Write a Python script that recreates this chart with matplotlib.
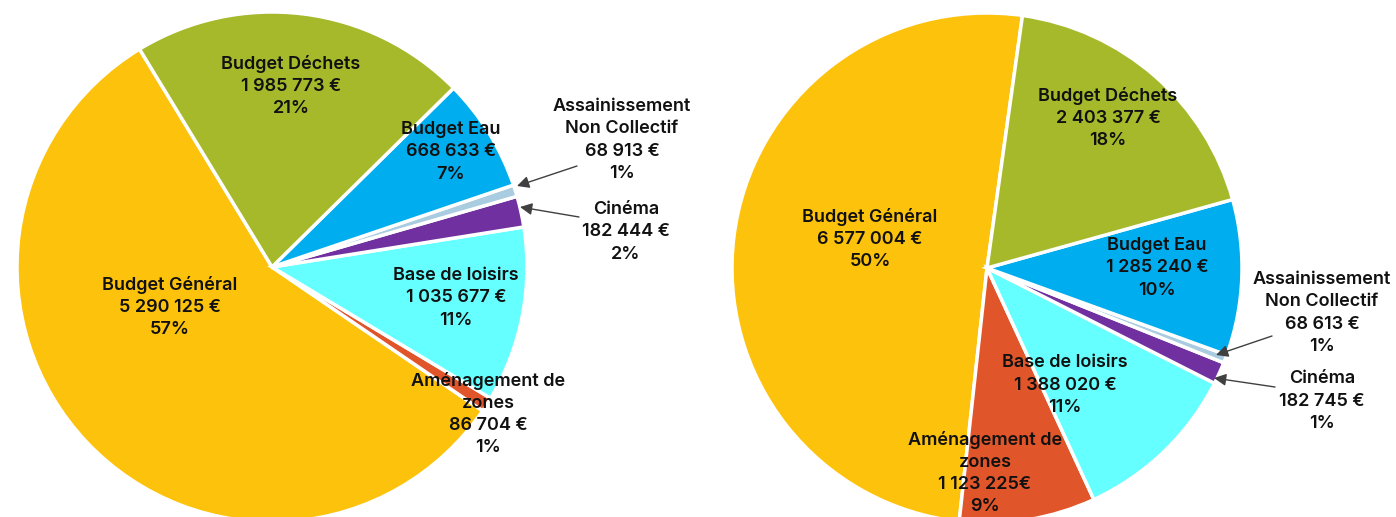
import matplotlib
matplotlib.use("Agg")
import matplotlib.pyplot as plt

plt.rcParams['font.family'] = ['Inter', 'DejaVu Sans']

categories = ["Budget Général", "Aménagement de\nzones", "Base de loisirs", "Cinéma",
              "Assainissement\nNon Collectif", "Budget Eau", "Budget Déchets"]
colors = ["#FDC20C", "#E0552A", "#66FFFF", "#7030A0", "#A9CCE0", "#00AEEF", "#A6B92B"]

left_values = [5290125, 86704, 1035677, 182444, 68913, 668633, 1985773]
right_values = [6577004, 1123225, 1388020, 182745, 68613, 1285240, 2403377]
left_amounts = ["5 290 125 €", "86 704 €", "1 035 677 €", "182 444 €", "68 913 €", "668 633 €", "1 985 773 €"]
right_amounts = ["6 577 004 €", "1 123 225€", "1 388 020 €", "182 745 €", "68 613 €", "1 285 240 €", "2 403 377 €"]

W, H = 1396, 517
fig = plt.figure(figsize=(W / 100, H / 100), dpi=100)
ax = fig.add_axes([0, 0, 1, 1])
ax.set_xlim(0, W)
ax.set_ylim(0, H)
ax.set_aspect('equal')
ax.axis('off')

def Y(py):
    return H - py

# pie geometry (pixel coords)
pies = [
    dict(values=left_values, amounts=left_amounts, center=(272, 267), start=121.3,
         labels=[(170, 307), (488, 414), (456, 298), (626, 232), (622, 140), (451, 152), (291, 86)],
         arrows={3: ((579, 217), (520, 207)), 4: ((577, 166), (517, 186))}),
    dict(values=right_values, amounts=right_amounts, center=(987, 268), start=82.0,
         labels=[(870, 239), (985, 473), (1065, 385), (1322, 401), (1322, 313), (1157, 268), (1108, 118)],
         arrows={3: ((1275, 387), (1214, 378)), 4: ((1272, 336), (1216, 355))}),
]

for p in pies:
    vals = p['values']
    total = sum(vals)
    cx, cy = p['center']
    ax.pie(vals, colors=colors, startangle=p['start'], counterclock=True,
           center=(cx, Y(cy)), radius=255, frame=True,
           wedgeprops=dict(edgecolor='white', linewidth=2.5))
    for i, (cat, amt) in enumerate(zip(categories, p['amounts'])):
        pct = round(vals[i] / total * 100)
        txt = f"{cat}\n{amt}\n{pct}%"
        lx, ly = p['labels'][i]
        ax.text(lx, Y(ly), txt, ha='center', va='center', fontsize=13,
                fontweight='semibold', color='#111111', linespacing=1.4)
    for i, (tail, head) in p['arrows'].items():
        ax.annotate("", xy=(head[0], Y(head[1])), xytext=(tail[0], Y(tail[1])),
                    arrowprops=dict(arrowstyle='-|>', color='#404040', lw=1.0,
                                    mutation_scale=18, shrinkA=0, shrinkB=0))

ax.set_xlim(0, W)
ax.set_ylim(0, H)
ax.axis('off')
fig.savefig("out.png", dpi=100)
